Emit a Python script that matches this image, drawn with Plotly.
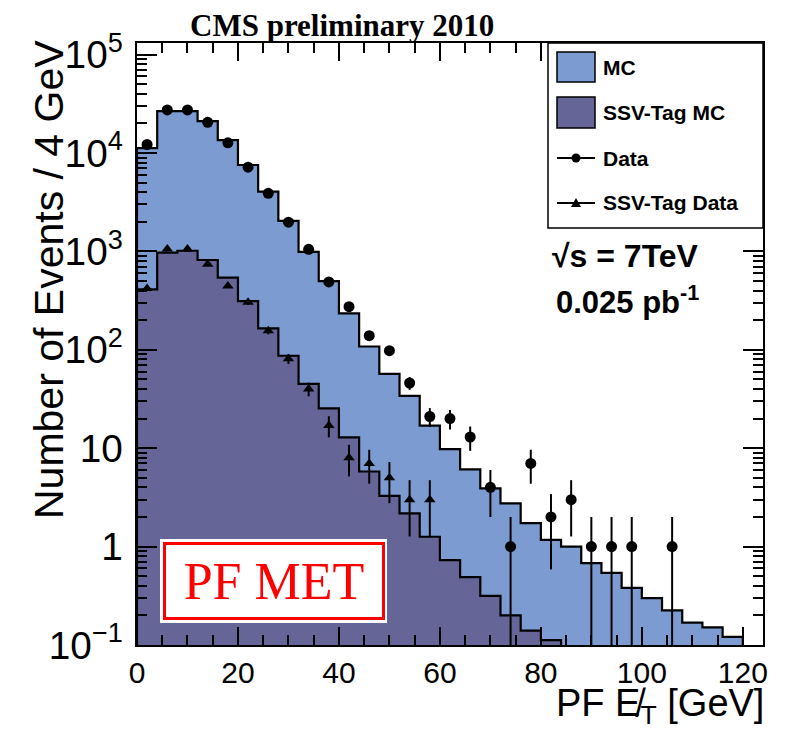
import plotly.graph_objects as go

# Missing transverse energy spectrum, 4 GeV bins from 0 to 124 GeV
bin_edges = list(range(0, 128, 4))

mc_all = [11200, 26700, 26700, 21100, 13500, 7550, 4050, 2040, 990, 500,
          235, 108, 57, 34, 17, 9.8, 6.1, 3.9, 2.75, 1.73,
          1.17, 1.0, 0.68, 0.54, 0.38, 0.30, 0.225, 0.169, 0.151, 0.121, 0]
mc_ssv = [412, 970, 1016, 818, 541, 313, 165, 87, 45, 25.4,
          12.9, 5.8, 3.27, 2.18, 1.26, 0.73, 0.49, 0.315, 0.20, 0.14,
          0.112, 0, 0, 0, 0, 0, 0, 0, 0, 0, 0]
data_all = [12200, 27400, 27400, 20500, 12700, 7170, 3890, 1980, 1050, 490,
            274, 139, 98, 46, 21, 20, 13, 4, 1, 7,
            2, 3, 1, 1, 1, 0, 1, 0, 0, 0, 0]
data_ssv = [420, 1060, 1060, 740, 445, 304, 156, 81, 40, 17,
            8, 7, 5, 3, 3, 0, 0, 0, 0, 0,
            0, 0, 0, 0, 0, 0, 0, 0, 0, 0, 0]

legend_labels = ["MC", "SSV-Tag MC", "Data", "SSV-Tag Data"]

C_MC = "#7b9bd1"
C_SSV = "#656598"

X_RANGE = [0, 124]
Y_LOG_RANGE = [-1, 5.118]

W, H = 788, 734
ML, MR, MT, MB = 137, 25, 43, 89
PW, PH = W - ML - MR, H - MT - MB

SANS = "Liberation Sans, Arial, sans-serif"
SERIF = "Liberation Serif, Times New Roman, serif"


def px_x(p):
    return (p - ML) / PW


def px_y(p):
    return (H - MB - p) / PH


def step_outline(edges, vals, floor):
    last = max(i for i, v in enumerate(vals) if v > 0)
    xs, ys = [edges[0]], [floor]
    for i in range(last + 1):
        xs += [edges[i], edges[i + 1]]
        ys += [vals[i], vals[i]]
    xs.append(edges[last + 1])
    ys.append(floor)
    return xs, ys


floor = 10 ** Y_LOG_RANGE[0]
centers = [(bin_edges[i] + bin_edges[i + 1]) / 2 for i in range(len(bin_edges) - 1)]

fig = go.Figure()

for vals, col in ((mc_all, C_MC), (mc_ssv, C_SSV)):
    xs, ys = step_outline(bin_edges, vals, floor)
    fig.add_trace(go.Scatter(x=xs, y=ys, mode="lines", fill="toself",
                             fillcolor=col, line=dict(color="black", width=2.2),
                             hoverinfo="skip", showlegend=False))

for vals, sym, size in ((data_all, "circle", 11), (data_ssv, "triangle-up", 10)):
    xs = [c for c, v in zip(centers, vals) if v > 0]
    ys = [v for v in vals if v > 0]
    errs = [v ** 0.5 for v in ys]
    fig.add_trace(go.Scatter(x=xs, y=ys, mode="markers",
                             marker=dict(symbol=sym, size=size, color="black"),
                             error_y=dict(type="data", array=errs, visible=True,
                                          color="black", thickness=2, width=0),
                             showlegend=False))

shapes = []
# legend box
shapes.append(dict(type="rect", xref="paper", yref="paper",
                   x0=px_x(548), x1=1, y0=px_y(228), y1=1,
                   fillcolor="white", line=dict(color="black", width=1.5),
                   layer="above"))
# filled swatches
for (y0, y1), col in (((52, 82), C_MC), ((97, 128), C_SSV)):
    shapes.append(dict(type="rect", xref="paper", yref="paper",
                       x0=px_x(557), x1=px_x(595), y0=px_y(y1), y1=px_y(y0),
                       fillcolor=col, line=dict(color="black", width=1.5),
                       layer="above"))
# data-point glyphs
for yc, kind in ((158, "circle"), (203, "triangle")):
    shapes.append(dict(type="line", xref="paper", yref="paper",
                       x0=px_x(557), x1=px_x(595), y0=px_y(yc), y1=px_y(yc),
                       line=dict(color="black", width=2), layer="above"))
    if kind == "circle":
        shapes.append(dict(type="circle", xref="paper", yref="paper",
                           xsizemode="pixel", ysizemode="pixel",
                           xanchor=px_x(576), yanchor=px_y(yc),
                           x0=-4.5, x1=4.5, y0=-4.5, y1=4.5,
                           fillcolor="black", line=dict(width=0), layer="above"))
    else:
        shapes.append(dict(type="path", xref="paper", yref="paper",
                           xsizemode="pixel", ysizemode="pixel",
                           xanchor=px_x(576), yanchor=px_y(yc),
                           path="M -5 -4 L 5 -4 L 0 5 Z",
                           fillcolor="black", line=dict(width=0), layer="above"))
# white backing for the label box
shapes.append(dict(type="rect", xref="paper", yref="paper",
                   x0=px_x(160), x1=px_x(387), y0=px_y(623), y1=px_y(539),
                   fillcolor="white", line=dict(width=0), layer="above"))

annotations = []
for label, yc in zip(legend_labels, (67, 113, 158, 203)):
    annotations.append(dict(x=px_x(601), y=px_y(yc), xref="paper", yref="paper",
                            text=f"<b>{label}</b>", showarrow=False,
                            xanchor="left", yanchor="middle",
                            font=dict(family=SANS, size=21, color="black")))

annotations += [
    dict(x=px_x(625), y=px_y(256), xref="paper", yref="paper",
         text="<b>\u221as = 7TeV</b>", showarrow=False,
         xanchor="center", yanchor="middle",
         font=dict(family=SANS, size=32, color="black")),
    dict(x=px_x(627), y=px_y(300), xref="paper", yref="paper",
         text="<b>0.025 pb<sup>-1</sup></b>", showarrow=False,
         xanchor="center", yanchor="middle",
         font=dict(family=SANS, size=31, color="black")),
    dict(x=px_x(342), y=px_y(26), xref="paper", yref="paper",
         text="<b>CMS preliminary 2010</b>", showarrow=False,
         xanchor="center", yanchor="middle",
         font=dict(family=SERIF, size=31, color="black")),
    dict(x=px_x(49), y=px_y(280), xref="paper", yref="paper",
         text="Number of Events / 4 GeV", textangle=-90, showarrow=False,
         xanchor="center", yanchor="middle",
         font=dict(family=SANS, size=41, color="black")),
    dict(x=px_x(766), y=px_y(706), xref="paper", yref="paper",
         text="PF E\u0338<sub>T</sub> [GeV]", showarrow=False,
         xanchor="right", yanchor="middle",
         font=dict(family=SANS, size=38, color="black")),
    dict(x=px_x(273.5), y=px_y(581), xref="paper", yref="paper",
         text="PF MET", showarrow=False, xanchor="center", yanchor="middle",
         width=216, height=72, borderpad=0, borderwidth=3,
         bordercolor="#ff0000", bgcolor="white",
         font=dict(family=SERIF, size=52, color="#ff0000")),
]

fig.update_layout(
    width=W, height=H,
    margin=dict(l=ML, r=MR, t=MT, b=MB, pad=0),
    paper_bgcolor="white", plot_bgcolor="white",
    showlegend=False,
    shapes=shapes, annotations=annotations,
    xaxis=dict(range=X_RANGE, dtick=20, tick0=0,
               showline=True, linecolor="black", linewidth=2, mirror="allticks",
               ticks="inside", ticklen=18, tickwidth=1.5, tickcolor="black",
               minor=dict(dtick=5, ticks="inside", ticklen=10, tickwidth=1.5,
                          tickcolor="black", showgrid=False),
               showgrid=False, zeroline=False,
               tickfont=dict(family=SANS, size=30, color="black")),
    yaxis=dict(type="log", range=Y_LOG_RANGE, dtick=1, tick0=0,
               exponentformat="power",
               showline=True, linecolor="black", linewidth=2, mirror="allticks",
               ticks="inside", ticklen=20, tickwidth=1.5, tickcolor="black",
               minor=dict(dtick="D1", ticks="inside", ticklen=10, tickwidth=1.5,
                          tickcolor="black", showgrid=False),
               showgrid=False, zeroline=False, ticklabelstandoff=6,
               tickfont=dict(family=SANS, size=31, color="black")),
)

fig.write_html("out.html")
